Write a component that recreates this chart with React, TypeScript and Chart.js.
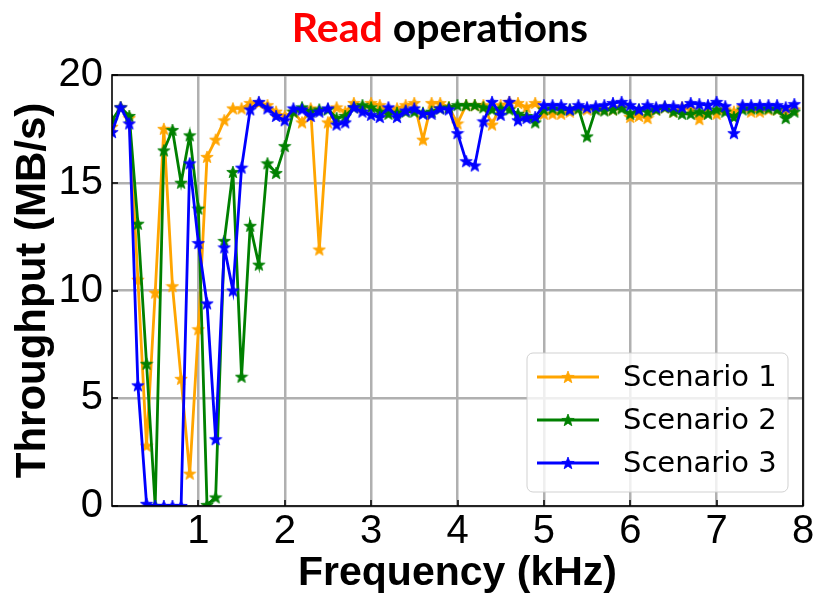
import React, { useEffect, useRef } from "react";
import { Chart, registerables } from "chart.js";

Chart.register(...registerables);

// ---------------- data ----------------
const frequencies = [
  0.0, 0.1, 0.2, 0.3, 0.4, 0.5, 0.6, 0.7, 0.8, 0.9,
  1.0, 1.1, 1.2, 1.3, 1.4, 1.5, 1.6, 1.7, 1.8, 1.9,
  2.0, 2.1, 2.2, 2.3, 2.4, 2.5, 2.6, 2.7, 2.8, 2.9,
  3.0, 3.1, 3.2, 3.3, 3.4, 3.5, 3.6, 3.7, 3.8, 3.9,
  4.0, 4.1, 4.2, 4.3, 4.4, 4.5, 4.6, 4.7, 4.8, 4.9,
  5.0, 5.1, 5.2, 5.3, 5.4, 5.5, 5.6, 5.7, 5.8, 5.9,
  6.0, 6.1, 6.2, 6.3, 6.4, 6.5, 6.6, 6.7, 6.8, 6.9,
  7.0, 7.1, 7.2, 7.3, 7.4, 7.5, 7.6, 7.7, 7.8, 7.9,
];

const scenario1 = [
  17.6, 18.5, 18.0, 10.5, 2.8, 9.9, 17.5, 10.2, 5.9, 1.5,
  8.2, 16.2, 17.0, 17.9, 18.45, 18.45, 18.7, 18.7, 18.6, 18.3,
  18.1, 18.3, 17.8, 18.45, 11.9, 17.8, 18.5, 18.3, 18.7, 18.5,
  18.7, 18.6, 18.3, 18.45, 18.6, 18.7, 17.0, 18.7, 18.7, 18.5,
  17.75, 18.6, 18.6, 18.6, 17.7, 18.6, 18.75, 18.7, 18.5, 18.7,
  18.2, 18.2, 18.2, 18.3, 18.45, 18.4, 18.45, 18.4, 18.4, 18.5,
  18.05, 18.1, 18.0, 18.4, 18.5, 18.3, 18.5, 18.4, 17.95, 18.3,
  18.2, 18.4, 18.3, 18.5, 18.3, 18.3, 18.4, 18.4, 18.3, 18.4,
];

const scenario2 = [
  17.9, 18.5, 18.1, 13.1, 6.6, 0.0, 16.5, 17.45, 15.0, 17.2,
  13.8, 0.05, 0.4, 12.3, 15.5, 6.0, 13.0, 11.2, 15.9, 15.45,
  16.7, 18.3, 18.5, 18.3, 18.4, 18.4, 18.0, 18.1, 18.5, 18.6,
  18.5, 18.3, 18.2, 18.25, 18.3, 18.3, 18.25, 18.3, 18.45, 18.5,
  18.6, 18.6, 18.6, 18.5, 18.4, 18.45, 18.4, 18.2, 18.1, 17.8,
  18.4, 18.45, 18.4, 18.4, 18.45, 17.15, 18.4, 18.35, 18.4, 18.45,
  18.2, 18.4, 18.3, 18.4, 18.5, 18.3, 18.2, 18.2, 18.3, 18.2,
  18.4, 18.3, 18.05, 18.4, 18.45, 18.45, 18.45, 18.4, 18.0, 18.3,
];

const scenario3 = [
  17.35, 18.5, 17.75, 5.6, 0.1, 0.0, 0.0, 0.0, 0.0, 15.9,
  12.2, 9.4, 3.1, 12.0, 10.0, 15.7, 18.4, 18.75, 18.45, 18.1,
  17.9, 18.45, 18.4, 18.1, 18.3, 18.45, 17.7, 17.8, 18.5, 18.3,
  18.15, 18.05, 18.5, 18.05, 18.35, 18.45, 18.2, 18.2, 18.45, 18.4,
  17.3, 16.0, 15.8, 17.85, 18.75, 18.15, 18.75, 17.9, 18.0, 18.05,
  18.6, 18.6, 18.6, 18.4, 18.6, 18.5, 18.55, 18.6, 18.7, 18.75,
  18.6, 18.4, 18.6, 18.5, 18.55, 18.55, 18.5, 18.7, 18.65, 18.6,
  18.75, 18.55, 17.3, 18.6, 18.6, 18.6, 18.6, 18.6, 18.5, 18.65,
];

const seriesNames = ["Scenario 1", "Scenario 2", "Scenario 3"];
const seriesColors = ["#FFA500", "#008000", "#0000FF"];
const xTickValues = [1, 2, 3, 4, 5, 6, 7, 8];
const yTickValues = [0, 5, 10, 15, 20];
const xTitle = "Frequency (kHz)";
const yTitle = "Throughput (MB/s)";

// ---------------- helpers ----------------
function makeStar(color: string, size: number): HTMLCanvasElement {
  const c = document.createElement("canvas");
  c.width = size;
  c.height = size;
  const ctx = c.getContext("2d")!;
  const cx = size / 2;
  const cy = size / 2 + 0.5;
  const R = size / 2 - 0.5;
  const r = R * 0.42;
  ctx.beginPath();
  for (let i = 0; i < 10; i++) {
    const ang = -Math.PI / 2 + (i * Math.PI) / 5;
    const rad = i % 2 === 0 ? R : r;
    const px = cx + rad * Math.cos(ang);
    const py = cy + rad * Math.sin(ang);
    if (i === 0) ctx.moveTo(px, py);
    else ctx.lineTo(px, py);
  }
  ctx.closePath();
  ctx.fillStyle = color;
  ctx.fill();
  ctx.strokeStyle = color;
  ctx.lineWidth = 0.8;
  ctx.stroke();
  return c;
}

const framePlugin = {
  id: "frameTicks",
  afterDatasetsDraw(chart: any) {
    const { ctx, chartArea, scales } = chart;
    const { left, right, top, bottom } = chartArea;
    ctx.save();
    ctx.strokeStyle = "#000";
    ctx.lineWidth = 1.5;
    xTickValues.forEach((v) => {
      const px = Math.round(scales.x.getPixelForValue(v));
      ctx.beginPath();
      ctx.moveTo(px, bottom);
      ctx.lineTo(px, bottom - 6);
      ctx.stroke();
    });
    yTickValues.forEach((v) => {
      const py = Math.round(scales.y.getPixelForValue(v));
      ctx.beginPath();
      ctx.moveTo(left, py);
      ctx.lineTo(left + 6, py);
      ctx.stroke();
    });
    ctx.lineWidth = 1.6;
    ctx.strokeRect(left, top, right - left, bottom - top);
    ctx.restore();
  },
};

const legendPlugin = {
  id: "insideLegend",
  afterDraw(chart: any) {
    const { ctx, chartArea } = chart;
    const boxRight = chartArea.right - 15;
    const boxBottom = chartArea.bottom - 14;
    const boxW = 261;
    const boxH = 139;
    const x0 = boxRight - boxW;
    const y0 = boxBottom - boxH;
    ctx.save();
    ctx.beginPath();
    const rad = 6;
    ctx.moveTo(x0 + rad, y0);
    ctx.arcTo(x0 + boxW, y0, x0 + boxW, y0 + boxH, rad);
    ctx.arcTo(x0 + boxW, y0 + boxH, x0, y0 + boxH, rad);
    ctx.arcTo(x0, y0 + boxH, x0, y0, rad);
    ctx.arcTo(x0, y0, x0 + boxW, y0, rad);
    ctx.closePath();
    ctx.fillStyle = "rgba(255,255,255,0.8)";
    ctx.fill();
    ctx.strokeStyle = "rgba(204,204,204,0.9)";
    ctx.lineWidth = 1;
    ctx.stroke();

    chart.data.datasets.forEach((ds: any, i: number) => {
      const cy = y0 + 24 + i * 43;
      ctx.strokeStyle = ds.borderColor;
      ctx.lineWidth = 2.8;
      ctx.beginPath();
      ctx.moveTo(x0 + 10, cy);
      ctx.lineTo(x0 + 72, cy);
      ctx.stroke();
      const img = ds.pointStyle as HTMLCanvasElement;
      ctx.drawImage(img, x0 + 41 - img.width / 2, cy - img.height / 2);
      ctx.fillStyle = "#000";
      ctx.font = "29px 'DejaVu Sans'";
      ctx.textBaseline = "middle";
      ctx.textAlign = "left";
      ctx.fillText(ds.label, x0 + 96, cy + 1);
    });
    ctx.restore();
  },
};

// ---------------- component ----------------
export default function App() {
  const canvasRef = useRef<HTMLCanvasElement | null>(null);

  useEffect(() => {
    if (!canvasRef.current) return;
    const seriesValues = [scenario1, scenario2, scenario3];
    const datasets = seriesValues.map((vals, i) => ({
      label: seriesNames[i],
      data: frequencies.map((f, j) => ({ x: f, y: vals[j] })),
      borderColor: seriesColors[i],
      backgroundColor: seriesColors[i],
      borderWidth: 2.8,
      pointStyle: makeStar(seriesColors[i], 14) as any,
      pointRadius: 5,
      tension: 0,
      order: 2 - i,
    }));

    const chart = new Chart(canvasRef.current, {
      type: "line",
      data: { datasets },
      plugins: [framePlugin, legendPlugin],
      options: {
        responsive: false,
        animation: false,
        devicePixelRatio: 1,
        layout: { padding: { top: 75, right: 14, left: 0, bottom: 0 } },
        plugins: {
          legend: { display: false },
          tooltip: { enabled: false },
          title: { display: false },
        },
        scales: {
          x: {
            type: "linear",
            min: 0,
            max: 8,
            afterFit: (s: any) => {
              s.height = 88;
            },
            afterBuildTicks: (s: any) => {
              s.ticks = xTickValues.map((v) => ({ value: v }));
            },
            ticks: {
              color: "#000",
              font: { family: "'Liberation Sans', Arial", size: 40 },
              padding: 2,
              maxRotation: 0,
              autoSkip: false,
            },
            grid: { color: "#b0b0b0", lineWidth: 2.5, drawTicks: false },
            border: { display: false },
            title: {
              display: true,
              text: xTitle,
              color: "#000",
              font: { family: "'Liberation Sans', Arial", size: 41, weight: "bold", lineHeight: 1 },
              padding: { top: 0, bottom: 0 },
            },
          },
          y: {
            type: "linear",
            min: 0,
            max: 20,
            afterFit: (s: any) => {
              s.width = 112;
            },
            afterBuildTicks: (s: any) => {
              s.ticks = yTickValues.map((v) => ({ value: v }));
            },
            ticks: {
              color: "#000",
              font: { family: "'Liberation Sans', Arial", size: 40 },
              padding: 9,
              autoSkip: false,
            },
            grid: { color: "#b0b0b0", lineWidth: 2.5, drawTicks: false },
            border: { display: false },
            title: {
              display: true,
              text: yTitle,
              color: "#000",
              font: { family: "'Liberation Sans', Arial", size: 42, weight: "bold", lineHeight: 1 },
              padding: { top: 12, bottom: 0 },
            },
          },
        },
      },
    });
    return () => chart.destroy();
  }, []);

  return (
    <div style={{ position: "absolute", left: 0, top: 0, width: 817, height: 594, background: "#fff", overflow: "hidden" }}>
      <canvas ref={canvasRef} width={817} height={594} style={{ position: "absolute", left: 0, top: 0, width: 817, height: 594 }} />
      <div
        style={{
          position: "absolute",
          left: 140,
          top: 3,
          width: 600,
          textAlign: "center",
          fontFamily: "Lato, 'Open Sans', sans-serif",
          fontWeight: 700,
          fontSize: 41,
          lineHeight: "48px",
          color: "#000",
          whiteSpace: "nowrap",
        }}
      >
        <span style={{ color: "#FF0000" }}>Read</span> operations
      </div>
    </div>
  );
}
